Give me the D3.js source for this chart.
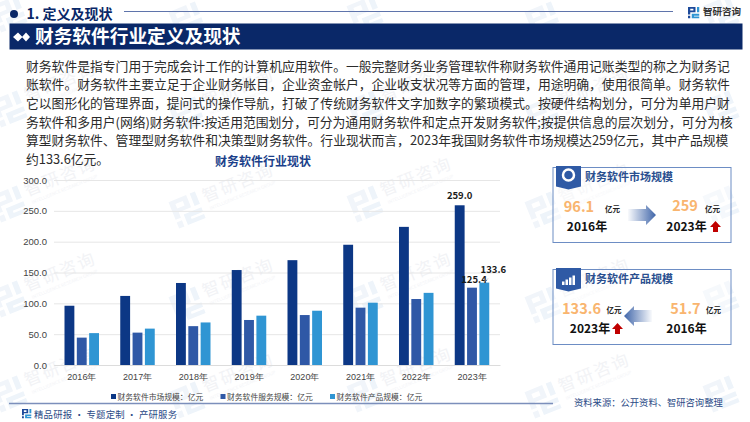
<!DOCTYPE html>
<html>
<head>
<meta charset="utf-8">
<script src="https://cdn.jsdelivr.net/npm/d3@7"></script>
<style>
  html, body { margin: 0; padding: 0; background: #fff; }
  svg { display: block; font-family: "Noto Sans CJK SC", "Noto Sans", sans-serif; }
</style>
</head>
<body>
<svg width="750" height="422"></svg>
<script>
// chart data
const years = ["2016年", "2017年", "2018年", "2019年", "2020年", "2021年", "2022年", "2023年"];
const marketSize = [96.1, 112, 133, 154, 170, 195, 224, 259];
const serviceSize = [44.4, 52.5, 63, 73, 81, 93, 107, 125.4];
const productSize = [51.7, 59, 69, 80, 88, 101, 117, 133.6];
const seriesNames = ["财务软件市场规模：亿元", "财务软件服务规模：亿元", "财务软件产品规模：亿元"];
const seriesColors = ["#0c3785", "#2f58a6", "#2f95d3"];
const yTicks = [0, 50, 100, 150, 200, 250, 300];

const bodyLines = [
  "财务软件是指专门用于完成会计工作的计算机应用软件。一般完整财务业务管理软件称财务软件通用记账类型的称之为财务记",
  "账软件。财务软件主要立足于企业财务帐目，企业资金帐户，企业收支状况等方面的管理，用途明确，使用很简单。财务软件",
  "它以图形化的管理界面，提问式的操作导航，打破了传统财务软件文字加数字的繁琐模式。按硬件结构划分，可分为单用户财",
  "务软件和多用户(网络)财务软件:按适用范围划分，可分为通用财务软件和定点开发财务软件;按提供信息的层次划分，可分为核",
  "算型财务软件、管理型财务软件和决策型财务软件。行业现状而言，2023年我国财务软件市场规模达259亿元，其中产品规模",
  "约133.6亿元。"
];

const navy = "#0a2868";
const svg = d3.select("svg");

// logo used in the header, footer and the watermark
function drawLogo(parent, x, y, s, c1, c2) {
  const g = parent.append("g").attr("transform", `translate(${x}, ${y}) scale(${s})`);
  g.append("path").attr("fill", c1).attr("d", "M0 0H10V7H3V10H0ZM3 2.2V4.8H7.2V2.2Z M0 11.5H3V15H0Z");
  g.append("path").attr("fill", c2).attr("d", "M12 0H15V7H12Z M5 9H15V11.5H8V12.8H15V15H5Z");
}

// watermark first so everything else sits on top
const wm = svg.append("g");
for (let i = 0; i < 5; i++) {
  for (let j = 0; j < 5; j++) {
    const wx = 5 + i * 178;
    const wy = 10 + j * 95 + (i % 2) * 6;
    const g = wm.append("g").attr("transform", `translate(${wx}, ${wy}) rotate(-22)`);
    drawLogo(g, -12, -9, 1.9, "#f1f5fa", "#eef4fa");
    // the lettering only where it fits inside the page
    if (wy < 45 || wx > 640) continue;
    g.append("text").attr("x", 22).attr("y", 5).attr("font-size", 17)
      .attr("letter-spacing", 2).attr("fill", "#f2f3f6").text("智研咨询");
    g.append("text").attr("x", 24).attr("y", 14).attr("font-size", 4.5)
      .attr("fill", "#f3f4f7").text("INTELLIGENCE RESEARCH GROUP");
  }
}

// page header
svg.append("circle").attr("cx", 14).attr("cy", 14).attr("r", 4).attr("fill", navy);
svg.append("text").attr("x", 26.5).attr("y", 19).attr("font-size", 14).attr("font-weight", 700)
  .attr("fill", navy).text("1. 定义及现状");
svg.append("line").attr("x1", 124).attr("x2", 673).attr("y1", 11.5).attr("y2", 11.5)
  .attr("stroke", "#5f74ab").attr("stroke-width", 1);
drawLogo(svg, 688, 7, 0.75, "#1d4a9a", "#2f95d3");
svg.append("text").attr("x", 703).attr("y", 15).attr("font-size", 9.5).attr("font-weight", 700)
  .attr("fill", "#333").text("智研咨询");

svg.append("rect").attr("x", 9.5).attr("y", 23.5).attr("width", 733).attr("height", 26).attr("fill", navy);
svg.append("path").attr("fill", "#fff").attr("d", "M13 37L18 32.5L22.5 37L18 41.5Z M22 37L26 32.5L30 37L26 41.5Z");
svg.append("text").attr("x", 35).attr("y", 43).attr("font-size", 18.7).attr("font-weight", 700)
  .attr("fill", "#fff").text("财务软件行业定义及现状");

svg.selectAll(".body-line").data(bodyLines).enter().append("text")
  .attr("class", "body-line")
  .attr("x", 26)
  .attr("y", (d, i) => 70.5 + i * 18.7)
  .attr("font-size", 12.8)
  .attr("fill", "#2b2b2b")
  .text((d) => d);

// bar chart
const margin = { top: 180, left: 54, right: 250, bottom: 57 };
const graphWidth = 750 - margin.left - margin.right;
const graphHeight = 422 - margin.top - margin.bottom;
const graph = svg.append("g").attr("transform", `translate(${margin.left}, ${margin.top})`);

const x = d3.scaleBand().domain(years).range([0, graphWidth]);
const y = d3.scaleLinear().domain([0, 300]).range([graphHeight, 0]);
const inner = d3.scaleBand().domain([0, 1, 2]).range([10.5, 45]).paddingInner(0.2);

const yAxis = d3.axisLeft(y).tickValues(yTicks).tickFormat((d) => d.toFixed(1)).tickSize(-graphWidth).tickPadding(7);
const yAxisGroup = graph.append("g").call(yAxis);
yAxisGroup.select(".domain").remove();
yAxisGroup.selectAll("line").attr("stroke", "#e6e6e6").attr("stroke-width", 1);
yAxisGroup.selectAll("text").attr("font-size", 9.5).attr("fill", "#444");

const xAxis = d3.axisBottom(x).tickSize(0).tickPadding(9);
const xAxisGroup = graph.append("g").attr("transform", `translate(0, ${graphHeight})`).call(xAxis);
xAxisGroup.select(".domain").attr("stroke", "#dcdcdc");
xAxisGroup.selectAll("text").attr("font-size", 9).attr("fill", "#444");

[marketSize, serviceSize, productSize].forEach((values, s) => {
  graph.selectAll(`.bar-${s}`).data(values).enter().append("rect")
    .attr("class", `bar-${s}`)
    .attr("x", (d, i) => x(years[i]) + inner(s))
    .attr("y", (d) => y(d))
    .attr("width", inner.bandwidth())
    .attr("height", (d) => graphHeight - y(d))
    .attr("fill", seriesColors[s]);
});

// only the last year gets labels
const lastYear = years[years.length - 1];
const barMid = (s) => x(lastYear) + inner(s) + inner.bandwidth() / 2;
const valueLabels = [
  { v: marketSize[7], s: 0, dx: 0, dy: -6 },
  { v: serviceSize[7], s: 1, dx: 2, dy: -5 },
  { v: productSize[7], s: 2, dx: 9, dy: -10 }
];
graph.selectAll(".value-label").data(valueLabels).enter().append("text")
  .attr("class", "value-label")
  .attr("x", (d) => barMid(d.s) + d.dx)
  .attr("y", (d) => y(d.v) + d.dy)
  .attr("text-anchor", "middle")
  .attr("font-size", 9.5)
  .attr("font-weight", 700)
  .attr("fill", "#1a1a1a")
  .text((d) => d.v.toFixed(1));
graph.append("line")
  .attr("x1", barMid(2) - 1).attr("y1", y(productSize[7]) - 1)
  .attr("x2", barMid(2) + 4).attr("y2", y(productSize[7]) - 4)
  .attr("stroke", "#bbb").attr("stroke-width", 0.6);

svg.append("text").attr("x", 263).attr("y", 165.5).attr("text-anchor", "middle")
  .attr("font-size", 12).attr("font-weight", 700).attr("fill", "#1b3f8a").text("财务软件行业现状");

// legend
const legendX = [111, 220.5, 330];
seriesNames.forEach((name, i) => {
  svg.append("rect").attr("x", legendX[i]).attr("y", 394).attr("width", 5).attr("height", 5).attr("fill", seriesColors[i]);
  svg.append("text").attr("x", legendX[i] + 6.5).attr("y", 400).attr("font-size", 7.8).attr("fill", "#444").text(name);
});

// cards on the right
const arrowGrad = svg.append("defs");
[["fadeRight", 0.03, 1], ["fadeLeft", 1, 0.03]].forEach(([id, a, b]) => {
  const grad = arrowGrad.append("linearGradient").attr("id", id);
  grad.append("stop").attr("offset", "0%").attr("stop-color", "#3f65a9").attr("stop-opacity", a);
  grad.append("stop").attr("offset", "100%").attr("stop-color", "#3f65a9").attr("stop-opacity", b);
});

function redArrow(cx, cy) {
  svg.append("path").attr("fill", "#c00000")
    .attr("d", `M${cx} ${cy - 6}L${cx + 5.5} ${cy}H${cx + 2.5}V${cy + 5}H${cx - 2.5}V${cy}H${cx - 5.5}Z`);
}

function drawCard(top, title) {
  svg.append("rect").attr("x", 553).attr("y", top).attr("width", 178).attr("height", 75)
    .attr("fill", "#fff").attr("fill-opacity", 0.4).attr("stroke", "#6d8dc4").attr("stroke-width", 1);
  svg.append("path").attr("fill", "#2f5aa5")
    .attr("d", `M556 ${top - 1.5}H581V${top + 19}L568.5 ${top + 22}L556 ${top + 19}Z`);
  svg.append("text").attr("x", 585).attr("y", top + 13.5).attr("font-size", 11).attr("font-weight", 700)
    .attr("fill", "#2a4f8f").text(title);
}

function cardText(tx, ty, str, size, fill, weight) {
  svg.append("text").attr("x", tx).attr("y", ty).attr("text-anchor", "middle")
    .attr("font-size", size).attr("font-weight", weight).attr("fill", fill).text(str);
}

const orange = "#f9b56f";

// card 1: market size
drawCard(167.5, "财务软件市场规模");
svg.append("circle").attr("cx", 568.5).attr("cy", 175).attr("r", 5.5).attr("fill", "none").attr("stroke", "#fff").attr("stroke-width", 2.5);
cardText(579, 212, "96.1", 14.5, orange, 700);
cardText(612.5, 212, "亿元", 7.5, "#222", 700);
cardText(587, 231, "2016年", 12, "#111", 700);
cardText(685, 211, "259", 14.5, orange, 700);
cardText(712.5, 212, "亿元", 7.5, "#222", 700);
cardText(686.5, 231, "2023年", 12, "#111", 700);
redArrow(715.5, 227);
svg.append("path").attr("fill", "url(#fadeRight)")
  .attr("d", "M628 209H646V205L656 215L646 225V221H628Z");

// card 2: product size
drawCard(269.5, "财务软件产品规模");
svg.append("path").attr("fill", "#fff")
  .attr("d", "M562 285V281.5H564.5V285Z M565.5 285V279.5H568V285Z M569 285V277.5H571.5V285Z M572.5 285V275.5H575V285Z");
cardText(581.5, 314, "133.6", 14.5, orange, 700);
cardText(614, 313, "亿元", 7.5, "#222", 700);
cardText(590, 332.5, "2023年", 12, "#111", 700);
redArrow(617.5, 329);
cardText(685.5, 314, "51.7", 14.5, orange, 700);
cardText(713.5, 313, "亿元", 7.5, "#222", 700);
cardText(686.5, 333, "2016年", 12, "#111", 700);
svg.append("path").attr("fill", "url(#fadeLeft)")
  .attr("d", "M624 316L634 306V310H652V322H634V326Z");

// footer
svg.append("line").attr("x1", 9).attr("x2", 553).attr("y1", 403.5).attr("y2", 403.5)
  .attr("stroke", "#7c8fbb").attr("stroke-width", 1.5);
drawLogo(svg, 22, 409, 0.62, "#1d4a9a", "#2f95d3");
svg.append("text").attr("x", 34).attr("y", 418).attr("font-size", 9.4).attr("letter-spacing", 0.2).attr("fill", "#2b4a86")
  .text("精品研报 · 专题定制 · 产研服务");
svg.append("text").attr("x", 574).attr("y", 406).attr("font-size", 9.3).attr("fill", "#2b4a86")
  .text("资料来源：公开资料、智研咨询整理");
</script>
</body>
</html>
